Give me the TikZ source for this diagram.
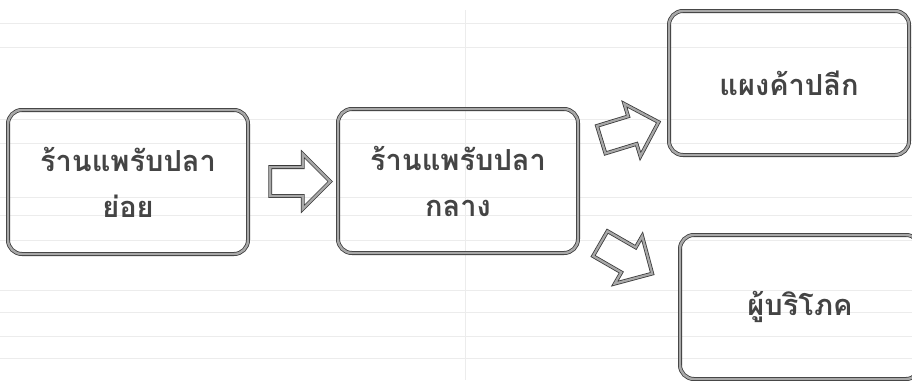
\documentclass[tikz,border=0pt]{standalone}
\usepackage{fontspec}
\usepackage{tikz}
\usetikzlibrary{shapes.arrows,calc}
\newfontfamily\thaifont[Script=Thai]{Loma}
\definecolor{rim}{HTML}{3A3A3A}
\definecolor{rimfill}{HTML}{A8A8A8}
\definecolor{rule}{HTML}{ECECEC}
\definecolor{inktext}{HTML}{444444}

\begin{document}
\begin{tikzpicture}[
  x=1pt,y=-1pt,
  font=\thaifont\fontsize{29}{46}\selectfont\bfseries,
  stall/.style={draw=rim,line width=0.8pt,double=rimfill,double distance=2.4pt,rounded corners=14pt,
    minimum width=240pt,minimum height=144pt,align=center,text=inktext},
  bigarrow/.style={single arrow,draw=rim,line width=0.8pt,double=rimfill,double distance=2.2pt,
    inner sep=0pt,minimum height=60pt,text height=28pt,text depth=0pt,text width=0pt,
    single arrow head extend=13pt,single arrow tip angle=90},
  gridline/.style={rule,line width=1pt}
]
\useasboundingbox (0,0) rectangle (912,380);
% ruled background
\foreach \yy in {23,47,119,143,197,215,240,290,312,336,358}
  \draw[gridline] (0,\yy) -- (912,\yy);
\draw[gridline] (465,10) -- (465,380);

\node[stall] (small) at (128,182) {ร้านแพรับปลา\\ย่อย};
\node[stall] (mid) at (458,181) {ร้านแพรับปลา\\กลาง};
\node[stall] (stand) at (789,83) {แผงค้าปลีก};
\node[stall] (buyer) at (800,307) {ผู้บริโภค};

\node[bigarrow] (a1) at ($(small.east)!0.5!(mid.west)$) {};
\node[bigarrow,rotate=17] (a2) at (623,133) {};
\node[bigarrow,rotate=-30] (a3) at (620,255) {};
\end{tikzpicture}
\end{document}
